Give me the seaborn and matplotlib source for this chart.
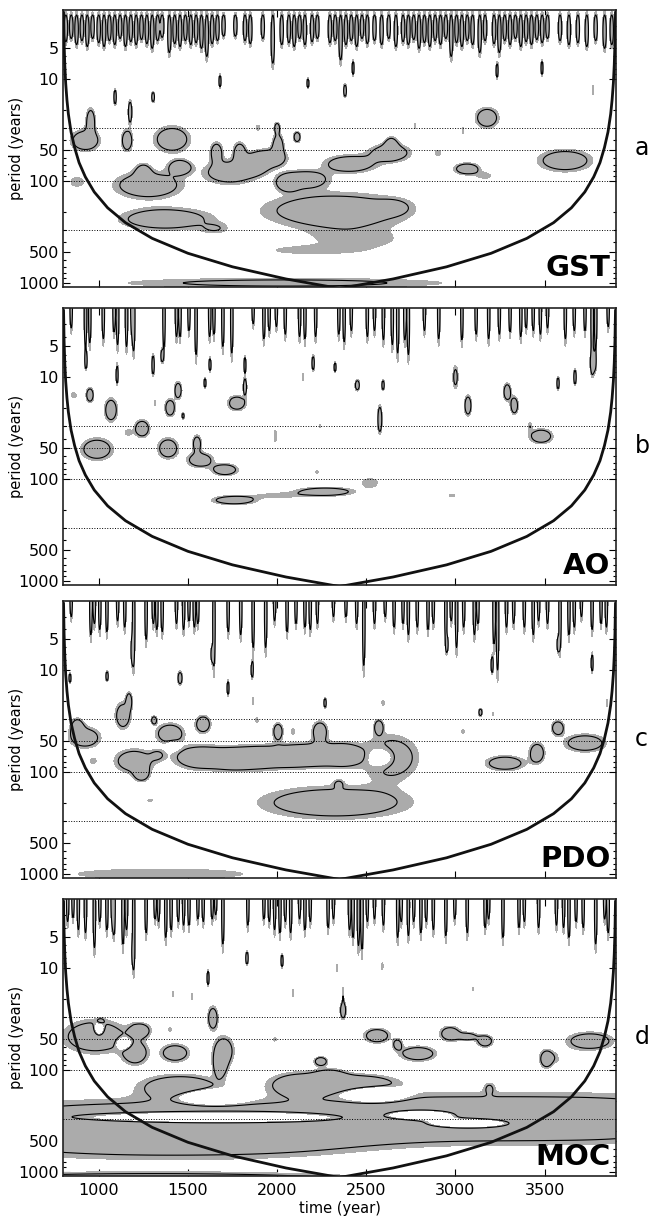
import numpy as np
import matplotlib
matplotlib.use("Agg")
import matplotlib.pyplot as plt
from matplotlib.ticker import FixedLocator, FixedFormatter, LogLocator, NullFormatter
import seaborn as sns

# axes ranges and ticks
time_lim = (800, 3900)
period_lim = (1094, 2.1)
period_ticks = [5, 10, 50, 100, 500, 1000]
period_ticklabels = ['5', '10', '50', '100', '500', '1000']
time_ticks = [1000, 1500, 2000, 2500, 3000, 3500]
ref_periods = [30, 50, 100, 300]
panel_names = ['GST', 'AO', 'PDO', 'MOC']
panel_letters = ['a', 'b', 'c', 'd']

# cone of influence
coi_time = [803, 806, 810, 815, 822, 830, 845, 865, 890, 925, 975, 1050, 1150, 1300, 1500, 1750, 2050, 2350,
            2650, 2950, 3200, 3400, 3550, 3650, 3725, 3775, 3810, 3835, 3855, 3870, 3878, 3885, 3890, 3894, 3897]
coi_period = [2.2, 4.4, 7.3, 11, 16, 22, 33, 47, 66, 91, 128, 183, 256, 365, 511, 694, 913, 1132,
              913, 694, 511, 365, 256, 183, 128, 91, 66, 47, 33, 22, 16, 11, 7.3, 4.4, 2.2]

# significant patches: (time, period, time spread, log10-period spread, strength)
gst_blobs = [
    (955, 26, 18, 0.09, 2.0), (925, 40, 55, 0.07, 2.2),
    (1159, 40, 22, 0.075, 2.0),
    (1411, 39, 70, 0.09, 2.0),
    (1456, 73, 45, 0.05, 2.0),
    (1277, 110, 130, 0.09, 2.1), (1250, 82, 30, 0.06, 1.6),
    (878, 102, 40, 0.05, 0.9),
    (1736, 82, 100, 0.08, 2.0), (1660, 52, 25, 0.07, 1.8), (1790, 52, 25, 0.07, 1.8),
    (1870, 70, 50, 0.06, 2.0), (1950, 60, 70, 0.06, 2.2), (2005, 45, 22, 0.08, 2.0),
    (2000, 30, 12, 0.04, 1.6), (2112, 37, 15, 0.04, 1.8), (1893, 30, 10, 0.03, 0.9),
    (1680, 10.5, 5, 0.05, 1.8), (1092, 15, 6, 0.06, 1.8), (1176, 21, 8, 0.08, 2.0),
    (1305, 15, 7, 0.04, 1.8), (2173, 11, 5, 0.04, 1.7), (2381, 13, 7, 0.05, 1.8),
    (2060, 105, 40, 0.05, 2.0), (2157, 96, 90, 0.06, 2.0), (2409, 68, 100, 0.06, 2.0),
    (2633, 53, 80, 0.06, 2.0), (2640, 45, 25, 0.06, 1.8),
    (2330, 195, 280, 0.12, 2.0), (2650, 180, 60, 0.05, 0.9),
    (2450, 380, 250, 0.09, 0.8), (2150, 480, 220, 0.035, 0.72),
    (1372, 236, 175, 0.075, 2.0), (1652, 295, 60, 0.04, 0.85),
    (2045, 1000, 720, 0.038, 1.37),
    (2902, 53, 18, 0.03, 0.9),
    (3065, 76, 50, 0.04, 2.0), (3166, 89, 40, 0.03, 0.85),
    (3614, 63, 104, 0.075, 2.0),
    (3177, 24, 45, 0.07, 2.0),
    (2426, 7.8, 5, 0.06, 1.7), (3233, 8.3, 5, 0.06, 1.7), (3485, 7.8, 5, 0.06, 1.7),
    (3771, 12.8, 5, 0.06, 0.9), (2773, 29, 6, 0.03, 0.9), (3042, 32, 6, 0.04, 0.9),
]
ao_blobs = [
    (990, 51, 62, 0.075, 2.0),
    (1389, 50, 40, 0.07, 2.0), (1568, 65, 50, 0.05, 2.0), (1708, 81, 50, 0.04, 2.0), (1551, 45, 18, 0.06, 1.8),
    (1243, 32, 30, 0.06, 2.0), (1164, 35, 20, 0.03, 0.85),
    (1069, 21, 25, 0.08, 2.0),
    (1445, 13.5, 15, 0.06, 1.9), (1400, 20, 20, 0.06, 2.0),
    (1775, 18, 35, 0.05, 2.0), (1820, 12.5, 8, 0.06, 1.8),
    (951, 15, 15, 0.05, 2.0), (860, 15, 20, 0.03, 0.85),
    (1473, 24, 6, 0.025, 1.5),
    (1759, 161, 85, 0.03, 2.0), (2269, 133, 110, 0.03, 2.0), (2521, 109, 50, 0.05, 0.9), (2000, 145, 110, 0.025, 0.85),
    (1990, 38, 8, 0.07, 0.9), (2224, 85, 8, 0.02, 0.9), (2240, 30, 6, 0.02, 0.9),
    (929, 6.9, 5, 0.06, 1.7), (1103, 9.6, 5, 0.07, 1.7), (1305, 7.6, 6, 0.08, 1.8), (1355, 6.2, 6, 0.05, 1.7),
    (1596, 11.4, 5, 0.04, 1.7), (1624, 7.6, 5, 0.05, 1.7), (1820, 7.6, 5, 0.07, 1.7), (2202, 7.3, 6, 0.06, 1.7),
    (2145, 10, 5, 0.04, 0.9), (1316, 18, 5, 0.03, 0.9),
    (3000, 10, 12, 0.09, 1.4), (3070, 19, 14, 0.07, 2.0),
    (3290, 14, 15, 0.06, 2.0), (3330, 19, 15, 0.06, 2.0),
    (3480, 38, 45, 0.05, 2.0), (3418, 30, 10, 0.04, 0.9),
    (2576, 26, 9, 0.1, 2.0),
    (2450, 12, 10, 0.04, 1.8), (2594, 12, 6, 0.04, 1.7), (3575, 11.5, 6, 0.05, 1.7), (3670, 10, 6, 0.06, 1.8),
    (3771, 7.3, 12, 0.08, 1.8), (2325, 8, 5, 0.04, 1.7),
    (2981, 145, 20, 0.015, 0.9),
]
pdo_blobs = [
    (923, 46, 60, 0.07, 2.0), (880, 36, 25, 0.06, 1.8),
    (1136, 28, 30, 0.09, 2.0), (1170, 20, 12, 0.06, 1.8),
    (1310, 31, 12, 0.03, 1.7),
    (1198, 78, 75, 0.08, 2.0), (1240, 105, 30, 0.05, 1.8), (1330, 68, 30, 0.04, 0.9),
    (1400, 42, 55, 0.07, 2.0), (1420, 55, 25, 0.03, -1.5),
    (1585, 34, 30, 0.06, 2.0),
    (1568, 72, 100, 0.08, 2.2), (1750, 75, 80, 0.07, 2.0), (1904, 72, 100, 0.08, 2.2),
    (2080, 70, 80, 0.07, 2.0), (2241, 68, 100, 0.08, 2.2), (2005, 40, 20, 0.06, 1.9),
    (2381, 68, 60, 0.07, 2.0), (2240, 40, 30, 0.07, 2.0),
    (2630, 72, 110, 0.15, 2.0), (2590, 72, 55, 0.07, -2.0), (2570, 36, 18, 0.05, 1.8),
    (3140, 26, 8, 0.03, 1.7), (3210, 27, 6, 0.02, 0.9), (2594, 21, 8, 0.03, 0.9), (3042, 40, 8, 0.02, 0.9),
    (3278, 82, 75, 0.05, 2.0), (3457, 65, 30, 0.07, 2.0),
    (3574, 37, 25, 0.05, 2.0),
    (3726, 52, 80, 0.06, 2.0),
    (2325, 200, 290, 0.11, 2.0), (2345, 130, 20, 0.03, 0.9),
    (1344, 1000, 570, 0.06, 0.9),
    (1288, 190, 15, 0.015, 0.9), (968, 78, 20, 0.03, 0.9), (2090, 40, 10, 0.03, 0.9), (1887, 31, 8, 0.03, 0.9),
    (1456, 12, 10, 0.05, 1.8), (1725, 15, 5, 0.06, 1.7), (1047, 11.5, 6, 0.04, 1.7), (2269, 21, 6, 0.04, 1.7),
    (839, 12, 5, 0.04, 1.7), (1865, 20, 5, 0.04, 0.9),
    (1187, 6.4, 5, 0.1, 1.7), (1635, 7, 5, 0.06, 1.7), (1860, 10, 5, 0.06, 1.7), (3205, 8.9, 5, 0.07, 1.7),
    (3766, 8.6, 5, 0.07, 1.7), (2953, 5.6, 5, 0.06, 1.7), (3575, 5.6, 5, 0.06, 1.7), (3850, 21, 6, 0.04, 0.9),
]
moc_blobs = [
    (980, 47, 120, 0.11, 2.2), (1204, 68, 50, 0.08, 2.0), (1232, 41, 40, 0.05, 2.0),
    (1002, 40, 18, 0.04, -3.0), (1142, 55, 25, 0.035, -3.0), (1010, 33, 15, 0.02, 0.9),
    (1428, 68, 55, 0.06, 2.0),
    (1640, 31, 20, 0.08, 2.0), (1700, 65, 40, 0.1, 2.0), (1680, 90, 25, 0.08, 2.0),
    (1456, 145, 150, 0.08, 2.0), (2129, 138, 120, 0.08, 2.0), (2297, 122, 60, 0.06, 2.0), (2245, 82, 25, 0.03, 2.0),
    (2560, 46, 50, 0.05, 2.0), (2790, 69, 70, 0.05, 2.0), (2675, 56, 20, 0.04, 1.5),
    (2970, 44, 40, 0.05, 2.0), (3166, 52, 30, 0.04, 2.0), (3070, 47, 40, 0.03, 1.6),
    (3510, 78, 25, 0.06, 2.0), (3754, 52, 90, 0.06, 2.0), (3600, 75, 60, 0.05, 0.9), (3620, 73, 25, 0.03, -1.5),
    (2370, 26, 12, 0.06, 2.0), (2370, 18, 4, 0.08, 0.9),
    (1400, 40, 10, 0.02, 0.9), (1988, 50, 10, 0.02, 0.9), (2090, 17.6, 5, 0.04, 0.9), (1523, 19, 5, 0.04, 0.9),
    (1417, 18, 5, 0.03, 0.9), (2590, 9.6, 5, 0.04, 0.9), (2336, 10, 5, 0.04, 0.9), (3098, 16, 4, 0.02, 0.9),
    (1613, 12.5, 5, 0.06, 1.8), (1831, 8, 6, 0.05, 1.8), (2028, 8.5, 5, 0.05, 1.8), (1192, 7, 5, 0.08, 1.7),
    (800, 380, 500, 0.17, 1.8), (1450, 380, 450, 0.17, 1.8), (2050, 380, 400, 0.16, 1.8),
    (2700, 300, 350, 0.155, 1.8), (3300, 300, 350, 0.155, 1.8), (3900, 300, 350, 0.155, 1.8),
    (2450, 135, 150, 0.06, 2.0), (3190, 150, 20, 0.04, 0.9),
    (1650, 295, 450, 0.035, -5.0), (2810, 277, 120, 0.03, -5.0), (3070, 331, 150, 0.03, -5.0),
    (1641, 183, 100, 0.04, -5.0), (2549, 173, 90, 0.04, -5.0),
    (1300, 1200, 900, 0.05, 2.0),
]

# short-period streaks: (time, lowest period reached)
gst_hf = [
    (816, 4.3), (846, 4.0), (876, 4.6), (906, 4.2), (936, 4.8), (966, 4.0),
    (1000, 4.4), (1030, 4.8), (1060, 4.2), (1090, 4.6), (1120, 4.0), (1150, 4.8), (1180, 4.3),
    (1210, 4.6), (1240, 4.1), (1270, 4.5), (1300, 5.0), (1330, 4.2), (1356, 3.9),
    (1396, 5.5), (1426, 4.5), (1456, 4.8), (1486, 4.2), (1516, 4.6), (1546, 4.4), (1576, 5.0),
    (1606, 6.0), (1636, 4.5), (1666, 4.2), (1700, 3.8),
    (1766, 3.8), (1820, 4.2), (1850, 4.5), (1920, 4.0), (1976, 7.0), (2026, 4.6),
    (2066, 4.4), (2096, 4.8), (2126, 4.0), (2156, 4.6), (2196, 4.3), (2226, 4.0),
    (2296, 4.4), (2326, 4.2), (2356, 6.5), (2386, 4.6), (2416, 4.2), (2446, 4.8), (2476, 4.0), (2506, 4.5),
    (2546, 4.2), (2586, 4.6), (2626, 4.0), (2666, 4.8), (2706, 4.3), (2736, 4.6), (2766, 4.1),
    (2796, 5.0), (2826, 4.4), (2856, 4.8), (2886, 4.2), (2916, 4.6), (2946, 4.0),
    (2976, 6.0), (3006, 4.4), (3036, 4.8), (3066, 4.2), (3096, 4.6), (3136, 5.5), (3166, 4.2),
    (3216, 4.5), (3246, 5.5), (3276, 4.2), (3306, 4.6), (3336, 4.0), (3366, 4.8), (3396, 4.3),
    (3426, 4.6), (3456, 4.1), (3486, 4.4), (3516, 4.0),
    (3586, 4.2), (3636, 4.6), (3686, 4.4), (3736, 4.8), (3786, 4.2), (3836, 5.0), (3876, 4.6),
]
ao_hf = [
    (846, 3.3), (926, 5.0), (950, 4.6), (1026, 4.2), (1086, 3.6), (1106, 4.8), (1156, 5.0), (1186, 3.5),
    (1196, 5.4), (1366, 5.0), (1436, 4.0), (1456, 4.0), (1506, 3.5), (1546, 6.0), (1622, 4.0), (1646, 3.8),
    (1696, 5.0), (1746, 5.8), (1866, 3.0), (1926, 4.2), (1956, 3.5), (1996, 3.2), (2046, 3.8), (2126, 4.0),
    (2156, 4.2), (2216, 4.0), (2346, 3.8), (2376, 4.5), (2416, 3.5), (2506, 4.0), (2546, 3.5), (2596, 4.3),
    (2646, 4.8), (2676, 5.8), (2716, 4.3), (2736, 6.0), (2826, 3.5), (2906, 4.2), (3036, 4.3), (3116, 3.8),
    (3186, 4.2), (3246, 3.8), (3306, 3.6), (3366, 4.0), (3396, 3.3), (3436, 3.5), (3476, 3.8), (3516, 3.3),
    (3616, 4.2), (3666, 3.5), (3726, 3.5), (3766, 6.0), (3786, 5.0), (3856, 3.2),
]
pdo_hf = [
    (846, 3.0), (956, 4.5), (976, 3.5), (1006, 4.0), (1046, 4.2), (1106, 3.3), (1146, 3.8), (1196, 8.5),
    (1266, 5.0), (1306, 3.5), (1326, 4.0), (1356, 4.2), (1436, 3.5), (1476, 4.0), (1506, 3.3), (1536, 3.8),
    (1556, 3.5), (1646, 9.0), (1726, 4.2), (1796, 4.5), (1866, 6.0), (1936, 6.0), (1986, 3.3), (2056, 4.2),
    (2106, 3.5), (2156, 3.8), (2186, 4.0), (2226, 3.5), (2316, 3.0), (2386, 3.0), (2446, 3.5), (2486, 9.0),
    (2546, 3.5), (2606, 3.0), (2656, 3.8), (2706, 3.5), (2736, 4.5), (2786, 3.8), (2846, 4.0), (2876, 3.5),
    (2946, 5.0), (2976, 3.3), (3006, 6.0), (3046, 3.8), (3106, 4.5), (3126, 3.5), (3216, 5.5), (3236, 10.0),
    (3286, 3.8), (3326, 3.5), (3386, 3.8), (3436, 4.5), (3466, 3.3), (3516, 3.5), (3586, 6.0), (3636, 4.5),
    (3666, 3.8), (3706, 3.0), (3766, 4.0), (3816, 3.5), (3846, 3.8),
]
moc_hf = [
    (826, 3.5), (856, 3.2), (886, 4.2), (926, 4.5), (976, 6.3), (1006, 3.5), (1046, 4.2), (1076, 3.5),
    (1086, 4.5), (1136, 5.8), (1156, 4.2), (1196, 9.5), (1266, 4.5), (1316, 3.3), (1336, 3.5), (1376, 5.0),
    (1406, 4.2), (1446, 3.5), (1476, 3.8), (1506, 3.8), (1556, 3.3), (1586, 3.5), (1636, 3.3), (1656, 3.0),
    (1696, 5.8), (1836, 3.8), (1926, 3.3), (1956, 3.5), (1986, 4.2), (2016, 4.5), (2046, 3.5), (2076, 4.5),
    (2126, 3.3), (2156, 4.2), (2186, 3.5), (2286, 4.0), (2316, 3.3), (2406, 4.2), (2426, 5.0), (2456, 6.0),
    (2476, 6.5), (2506, 3.5), (2546, 3.3), (2596, 3.8), (2676, 5.0), (2696, 3.5), (2736, 4.8), (2766, 3.5),
    (2806, 4.5), (2836, 3.5), (2876, 4.2), (2946, 4.8), (2996, 3.3), (3066, 4.5), (3166, 4.0), (3186, 3.3),
    (3266, 5.0), (3356, 4.0), (3386, 3.5), (3466, 4.0), (3566, 3.8), (3606, 4.0), (3636, 5.0), (3676, 3.5),
    (3716, 4.0), (3786, 5.8), (3836, 3.3), (3856, 4.5),
]

panel_blobs = [gst_blobs, ao_blobs, pdo_blobs, moc_blobs]
panel_hf = [gst_hf, ao_hf, pdo_hf, moc_hf]
hf_top = [2.35, 1.2, 1.2, 1.2]
hf_width = [8, 6, 6, 6]

time_grid = np.arange(790, 3912, 2.0)
log_grid = np.arange(0.0, 3.2, 0.005)


def build_field(blobs, hf, top, width):
    field = np.zeros((log_grid.size, time_grid.size))
    for t, p, st, sl, amp in blobs:
        gx = np.exp(-0.5 * ((time_grid - t) / st) ** 2)
        gy = np.exp(-0.5 * ((log_grid - np.log10(p)) / sl) ** 2)
        field += amp * np.outer(gy, gx)
    lo = np.log10(top)
    for t, pb in hf:
        hi = np.log10(pb)
        gx = np.exp(-0.5 * ((time_grid - t) / width) ** 2)
        gy = np.exp(-0.5 * ((log_grid - (lo + hi) / 2) / ((hi - lo) / 2.36)) ** 2)
        field += 2.0 * np.outer(gy, gx)
    return field


sns.set_style("ticks")
plt.rcParams['font.family'] = ['DejaVu Sans']
plt.rcParams['text.color'] = 'black'
plt.rcParams['xtick.color'] = 'black'
plt.rcParams['ytick.color'] = 'black'
plt.rcParams['axes.labelcolor'] = 'black'

fig = plt.figure(figsize=(6.49, 12.17), dpi=100)
bottoms = [0.7642, 0.5193, 0.2786, 0.0337]
axes = [fig.add_axes([0.0971, b, 0.8521, 0.2276]) for b in bottoms]

grey = '#ababab'
for i, ax in enumerate(axes):
    field = build_field(panel_blobs[i], panel_hf[i], hf_top[i], hf_width[i])
    ax.contourf(time_grid, 10 ** log_grid, field, levels=[0.65, 1e3], colors=[grey], zorder=1)
    ax.contour(time_grid, 10 ** log_grid, field, levels=[1.0], colors='k', linewidths=0.8, zorder=2)
    for rp in ref_periods:
        ax.axhline(rp, color='k', linestyle=':', linewidth=0.7, zorder=3)
    sns.lineplot(x=coi_time, y=coi_period, sort=False, estimator=None, color='#111111',
                 linewidth=2.0, ax=ax, zorder=4)

    ax.set_yscale('log')
    ax.set_xlim(*time_lim)
    ax.set_ylim(*period_lim)
    ax.yaxis.set_major_locator(FixedLocator(period_ticks))
    ax.yaxis.set_major_formatter(FixedFormatter(period_ticklabels))
    ax.yaxis.set_minor_locator(LogLocator(base=10, subs=np.arange(2, 10), numticks=20))
    ax.yaxis.set_minor_formatter(NullFormatter())
    ax.set_xticks(time_ticks)
    ax.set_xlabel('')
    ax.set_ylabel('')
    ax.tick_params(which='both', direction='in', top=True, right=True, width=0.8, labelsize=11.5,
                   colors='black')
    ax.tick_params(which='major', length=5, pad=3)
    ax.tick_params(which='minor', length=2.5)
    ax.tick_params(axis='x', pad=5)
    if i < 3:
        ax.tick_params(axis='x', labelbottom=False)
    for sp in ax.spines.values():
        sp.set_linewidth(1.2)
        sp.set_color('#222222')

    ax.text(0.99, 0.04, panel_names[i], transform=ax.transAxes, ha='right', va='baseline',
            fontsize=21, fontweight='bold', color='black', zorder=5)
    ax.text(1.034, 0.475, panel_letters[i], transform=ax.transAxes, ha='left', va='baseline',
            fontsize=17, color='black')

    pos = ax.get_position()
    fig.text(17 / 649, pos.y0 + pos.height / 2, 'period (years)', rotation=90,
             ha='center', va='center', fontsize=10.5, color='black')

fig.text(340 / 649, 1 - 1209 / 1217, 'time (year)', ha='center', va='center', fontsize=10.5, color='black')

fig.savefig('out.png', dpi=100)
